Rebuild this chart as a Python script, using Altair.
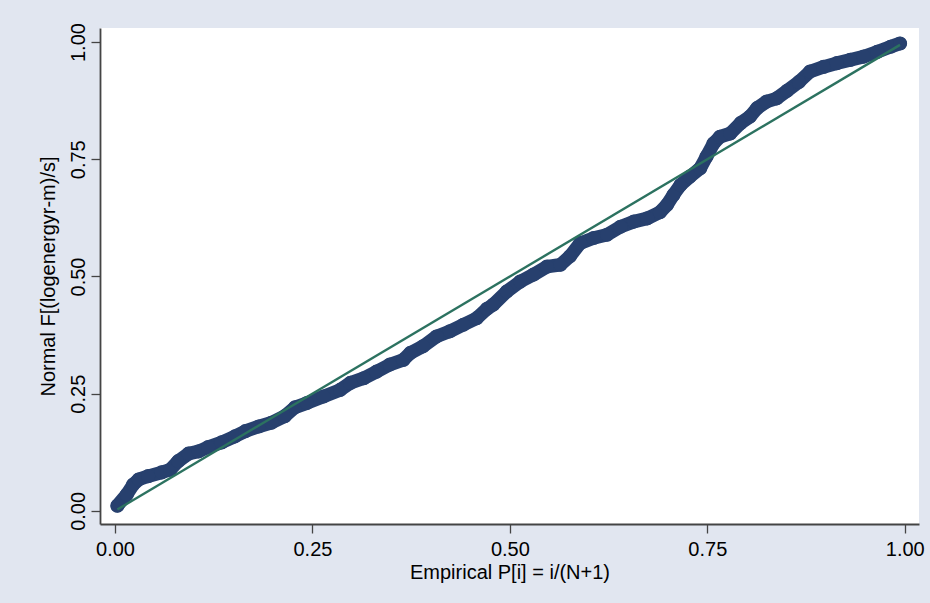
import altair as alt
import pandas as pd

# Empirical P[i] = i/(N+1)
p_emp = [0.003, 0.015, 0.023, 0.030, 0.042, 0.059, 0.070, 0.080, 0.093, 0.106,
         0.118, 0.135, 0.152, 0.165, 0.182, 0.198, 0.215, 0.228, 0.243, 0.264,
         0.285, 0.298, 0.315, 0.331, 0.348, 0.365, 0.374, 0.390, 0.407, 0.424,
         0.441, 0.458, 0.471, 0.479, 0.496, 0.513, 0.530, 0.547, 0.564, 0.576,
         0.589, 0.606, 0.623, 0.640, 0.657, 0.674, 0.690, 0.699, 0.707, 0.716,
         0.728, 0.741, 0.749, 0.758, 0.766, 0.779, 0.792, 0.804, 0.813, 0.825,
         0.838, 0.851, 0.866, 0.880, 0.897, 0.914, 0.931, 0.948, 0.965, 0.982,
         0.994]
# Normal F[(logenergyr-m)/s]
f_norm = [0.011, 0.035, 0.056, 0.067, 0.074, 0.082, 0.088, 0.106, 0.122, 0.127,
          0.136, 0.146, 0.159, 0.170, 0.180, 0.188, 0.202, 0.221, 0.230, 0.244,
          0.258, 0.273, 0.283, 0.297, 0.312, 0.322, 0.337, 0.351, 0.372, 0.383,
          0.397, 0.411, 0.431, 0.440, 0.468, 0.489, 0.504, 0.521, 0.525, 0.543,
          0.571, 0.582, 0.589, 0.606, 0.617, 0.624, 0.637, 0.653, 0.674, 0.695,
          0.713, 0.731, 0.756, 0.784, 0.798, 0.805, 0.827, 0.841, 0.859, 0.873,
          0.880, 0.896, 0.915, 0.937, 0.947, 0.955, 0.962, 0.969, 0.979, 0.990,
          0.997]
tick_vals = [0.0, 0.25, 0.5, 0.75, 1.0]

df = pd.DataFrame({"p": p_emp, "f": f_norm})
ref = pd.DataFrame({"p": [p_emp[0], p_emp[-1]], "f": [p_emp[0], p_emp[-1]]})

FONT = "Liberation Sans"
NAVY = "#27406E"
GREEN = "#2C7260"

xs = alt.Scale(domain=[-0.019, 1.018], nice=False, zero=False)
ys = alt.Scale(domain=[-0.028, 1.030], nice=False, zero=False)

xax = alt.Axis(values=tick_vals, format=".2f", title="Empirical P[i] = i/(N+1)",
               grid=False, domainColor="#444444", domainWidth=1.8,
               tickColor="#444444", tickWidth=1.3, tickSize=9,
               labelFont=FONT, labelFontSize=20, labelColor="#000000",
               labelPadding=6, titleFont=FONT, titleFontSize=20,
               titleFontWeight="normal", titleColor="#000000",
               titleY=54, titleBaseline="alphabetic")
yax = alt.Axis(values=tick_vals, format=".2f", title="Normal F[(logenergyr-m)/s]",
               grid=False, domainColor="#444444", domainWidth=1.8,
               tickColor="#444444", tickWidth=1.3, tickSize=9,
               labelFont=FONT, labelFontSize=20, labelColor="#000000",
               labelAngle=270, labelAlign="center", labelBaseline="alphabetic",
               labelPadding=7, titleFont=FONT, titleFontSize=20,
               titleFontWeight="normal", titleColor="#000000",
               titleAngle=270, titleX=-46, titleY=248, titleAlign="center",
               titleBaseline="alphabetic")

band = alt.Chart(df).mark_line(color=NAVY, strokeWidth=13.5, strokeCap="round",
                               strokeJoin="round").encode(
    x=alt.X("p:Q", scale=xs, axis=xax),
    y=alt.Y("f:Q", scale=ys, axis=yax),
)
pts = alt.Chart(df).mark_circle(color=NAVY, size=200, opacity=1).encode(
    x=alt.X("p:Q", scale=xs),
    y=alt.Y("f:Q", scale=ys),
)
line = alt.Chart(ref).mark_line(color=GREEN, strokeWidth=2.4).encode(
    x=alt.X("p:Q", scale=xs),
    y=alt.Y("f:Q", scale=ys),
)

chart = alt.layer(band, pts, line).properties(
    width=819, height=496,
    background="#E1E6F0",
    padding={"left": 100, "top": 28, "right": 11, "bottom": 79},
    autosize=alt.AutoSizeParams(type="none"),
).configure_view(fill="white", stroke=None)

chart.save("out.html", embed_options={"renderer": "svg", "actions": False})
